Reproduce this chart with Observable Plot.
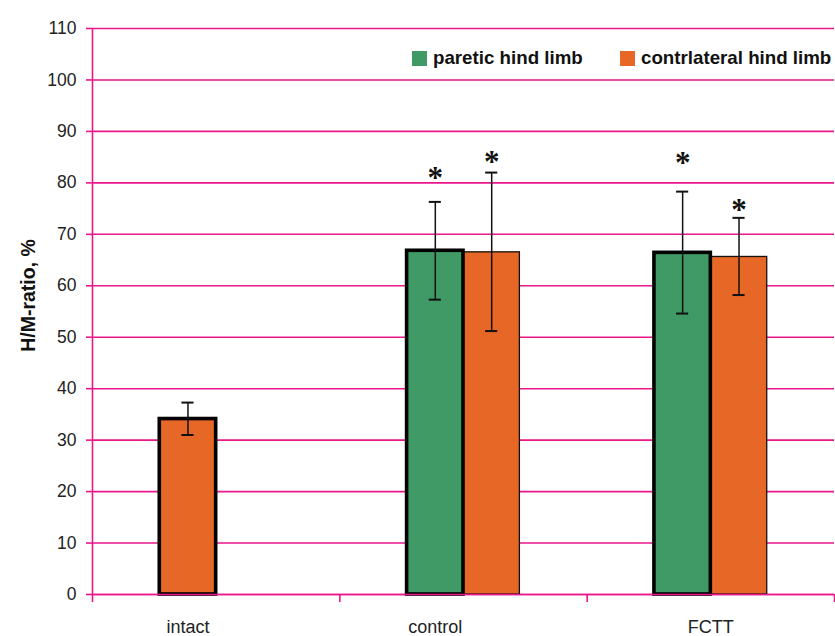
<!DOCTYPE html>
<html><head><meta charset="utf-8">
<script src="https://cdn.jsdelivr.net/npm/d3@7"></script>
<script src="https://cdn.jsdelivr.net/npm/@observablehq/plot@0.6"></script>
<style>
body{margin:0;background:#fff;}
#wrap{position:relative;width:835px;height:636px;overflow:hidden;}
.item{position:absolute;top:51px;height:16px;white-space:nowrap;font-family:"Liberation Sans",Arial,sans-serif;font-weight:bold;font-size:19px;color:#111;}
.sw{position:absolute;left:0;top:0;width:15px;height:15px;}
.lt{position:absolute;left:21px;top:-3px;line-height:19px;transform:scaleX(0.985);transform-origin:0 0;}
</style></head><body><div id="wrap"></div>
<script>
// ---- data ----
const groups = ["intact", "control", "FCTT"];
const seriesNames = ["paretic hind limb", "contrlateral hind limb"];
const seriesColors = ["#3f9a66", "#e76727"];
const barGroup = ["intact", "control", "control", "FCTT", "FCTT"];
const barSeries = ["contrlateral hind limb", "paretic hind limb", "contrlateral hind limb", "paretic hind limb", "contrlateral hind limb"];
const barValue = [34.1, 66.8, 66.5, 66.4, 65.6];
const errLow = [31.0, 57.3, 51.2, 54.6, 58.2];
const errHigh = [37.3, 76.3, 82.0, 78.3, 73.2];
const starY = [null, 82.1, 85.2, 85.0, 75.9];
const yTicks = [0, 10, 20, 30, 40, 50, 60, 70, 80, 90, 100, 110];
const yTitle = "H/M-ratio, %";

// ---- build table ----
const seen = {};
const bars = barGroup.map((g, i) => {
  const slot = seen[g] = (seen[g] === undefined ? 0 : seen[g] + 1);
  return {group: g, gi: groups.indexOf(g), slot, series: barSeries[i], value: barValue[i], lo: errLow[i], hi: errHigh[i], star: starY[i]};
});

const W = 0.228;     // bar width in category units
const C = 0.0245;    // half cap width
const magenta = "#e9168c";
const x1 = d => d.gi + 0.5 + (d.slot === 0 ? -W : 0);
const x2 = d => x1(d) + W;
const cx = d => (x1(d) + x2(d)) / 2;
const labelShift = {intact: -W / 2, control: -W / 2, FCTT: 0};
const sans = '"Liberation Sans", Arial, sans-serif';

const chart = Plot.plot({
  width: 835, height: 636,
  marginLeft: 92, marginRight: 1, marginTop: 28, marginBottom: 42,
  x: {domain: [0, 3]},
  y: {domain: [0, 110]},
  color: {domain: seriesNames, range: seriesColors},
  style: {fontFamily: sans, background: "#fff", color: "#222"},
  marks: [
    Plot.ruleY(yTicks, {stroke: magenta, strokeWidth: 1.6}),
    Plot.ruleX([0], {stroke: magenta, strokeWidth: 1.6}),
    Plot.axisX({ticks: [0, 1, 2, 3], tickSize: 8, tickFormat: () => "", stroke: magenta, strokeWidth: 1.6}),
    Plot.axisY({ticks: yTicks, tickSize: 6, tickPadding: 10, stroke: magenta, strokeWidth: 1.6, fill: "#222", fontSize: 17.5}),
    Plot.rect(bars.filter(d => d.slot !== 0), {x1, x2, y1: 0, y2: "value", fill: "series", stroke: "#111", strokeWidth: 1.3}),
    Plot.rect(bars.filter(d => d.slot === 0), {x1, x2, y1: 0, y2: "value", fill: "series", stroke: "#000", strokeWidth: 3.6}),
    Plot.ruleY([0], {stroke: magenta, strokeWidth: 1.6}),
    Plot.ruleX(bars, {x: cx, y1: "lo", y2: "hi", stroke: "#111", strokeWidth: 1.5}),
    Plot.ruleY(bars, {y: "hi", x1: d => cx(d) - C, x2: d => cx(d) + C, stroke: "#111", strokeWidth: 2}),
    Plot.ruleY(bars, {y: "lo", x1: d => cx(d) - C, x2: d => cx(d) + C, stroke: "#111", strokeWidth: 2}),
    Plot.text(bars.filter(d => d.star != null), {x: cx, y: "star", text: () => "*", fontSize: 31, fontWeight: "bold", fontFamily: '"Liberation Serif", serif', fill: "#111", lineAnchor: "middle", dy: 6}),
    Plot.text(groups, {x: (d, i) => i + 0.5 + labelShift[d], frameAnchor: "bottom", dy: 38, text: d => d, fontSize: 18, fill: "#222", lineAnchor: "bottom"}),
    Plot.text([yTitle], {frameAnchor: "left", dx: -64, dy: -16, rotate: -90, textAnchor: "middle", text: d => d, fontSize: 19.5, fontWeight: "bold", fill: "#111", lineAnchor: "middle"})
  ]
});

const wrap = document.getElementById("wrap");
wrap.appendChild(chart);
const legendLeft = [412, 620];
seriesNames.forEach((s, i) => {
  const item = document.createElement("div");
  item.className = "item";
  item.style.left = legendLeft[i] + "px";
  const sw = document.createElement("span");
  sw.className = "sw";
  sw.style.background = seriesColors[i];
  const t = document.createElement("span");
  t.className = "lt";
  t.textContent = s;
  item.appendChild(sw); item.appendChild(t);
  wrap.appendChild(item);
});
</script></body></html>
